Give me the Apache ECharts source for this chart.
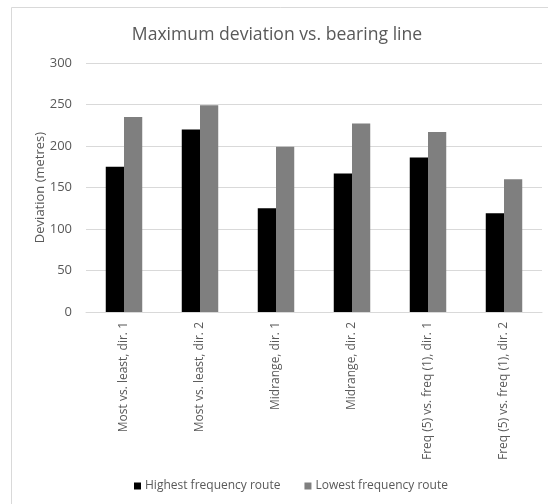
<!DOCTYPE html>
<html>
<head>
<meta charset="utf-8">
<script src="https://cdn.jsdelivr.net/npm/echarts@6/dist/echarts.min.js"></script>
<style>
  html, body { margin: 0; padding: 0; background: #ffffff; }
  #chart { width: 548px; height: 504px; }
</style>
</head>
<body>
<div id="chart"></div>
<script>
// Route comparisons along the x axis
const categories = [
  'Most vs. least, dir. 1',
  'Most vs. least, dir. 2',
  'Midrange, dir. 1',
  'Midrange, dir. 2',
  'Freq (5) vs. freq (1), dir. 1',
  'Freq (5) vs. freq (1), dir. 2'
];
// Maximum deviation (metres) for each route
const highestFrequency = [175, 220, 125, 167, 186, 119];
const lowestFrequency = [235, 249, 199, 227, 217, 160];
const yTicks = [0, 50, 100, 150, 200, 250, 300];

const FONT = '"Open Sans", "DejaVu Sans", sans-serif';
const TEXT = '#595959';

const chart = echarts.init(document.getElementById('chart'), null, { renderer: 'canvas' });
chart.setOption({
  animation: false,
  backgroundColor: '#ffffff',
  textStyle: { fontFamily: FONT },
  graphic: [{
    type: 'rect',
    shape: { x: 11.5, y: 7.5, width: 600, height: 600 },
    style: { fill: 'none', stroke: '#d9d9d9', lineWidth: 1 },
    silent: true,
    z: -10
  }],
  title: {
    text: 'Maximum deviation vs. bearing line',
    left: 272,
    top: 21,
    textAlign: 'center',
    textStyle: { color: TEXT, fontSize: 17.6, fontWeight: 'normal', fontFamily: FONT }
  },
  legend: {
    data: ['Highest frequency route', 'Lowest frequency route'],
    left: 129,
    top: 475,
    itemWidth: 7,
    itemHeight: 7,
    itemGap: 24,
    icon: 'rect',
    textStyle: { color: TEXT, fontSize: 12, fontFamily: FONT, padding: [0, 0, 0, -1] }
  },
  grid: { left: 86, right: 6, top: 63, bottom: 192 },
  xAxis: {
    type: 'category',
    data: categories,
    axisLine: { lineStyle: { color: '#d9d9d9' } },
    axisTick: { show: false },
    axisLabel: { rotate: 90, color: TEXT, fontSize: 12, margin: 10, interval: 0 }
  },
  yAxis: {
    type: 'value',
    min: yTicks[0],
    max: yTicks[yTicks.length - 1],
    interval: yTicks[1] - yTicks[0],
    name: 'Deviation (metres)',
    nameLocation: 'middle',
    nameGap: 39,
    nameMoveOverlap: false,
    nameTextStyle: { color: TEXT, fontSize: 13, fontFamily: FONT },
    axisLine: { show: false },
    axisTick: { show: false },
    axisLabel: { color: TEXT, fontSize: 13, margin: 14 },
    splitLine: { lineStyle: { color: '#d9d9d9' } }
  },
  series: [
    {
      name: 'Highest frequency route',
      type: 'bar',
      data: highestFrequency,
      barGap: '0%',
      barCategoryGap: '52%',
      itemStyle: { color: '#000000' }
    },
    {
      name: 'Lowest frequency route',
      type: 'bar',
      data: lowestFrequency,
      barGap: '0%',
      barCategoryGap: '52%',
      itemStyle: { color: '#7f7f7f' }
    }
  ]
});
</script>
</body>
</html>
